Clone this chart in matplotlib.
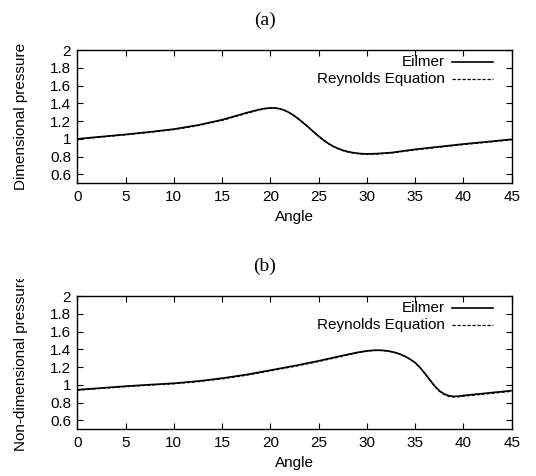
import numpy as np
import matplotlib
matplotlib.use('Agg')
import matplotlib.pyplot as plt
from matplotlib.lines import Line2D
from matplotlib.transforms import Bbox, TransformedBbox

plt.rcParams['font.family'] = ['Liberation Sans', 'DejaVu Sans']

# pressure along the wall, panel (a): dimensional
angle_a = [0, 2.5, 5, 7.5, 10, 12.5, 15, 17.5, 18, 18.5, 19, 19.5, 20, 20.5,
           21, 21.5, 22, 22.5, 23, 23.5, 24, 24.5, 25, 25.5, 26, 26.5, 27,
           27.5, 28, 28.5, 29, 29.5, 30, 31, 32.5, 35, 37.5, 40, 42.5, 45]
eilmer_a = [1.00, 1.025, 1.05, 1.078, 1.11, 1.155, 1.215, 1.293, 1.307, 1.321,
            1.333, 1.343, 1.348, 1.347, 1.338, 1.32, 1.293, 1.258, 1.217,
            1.172, 1.125, 1.077, 1.03, 0.987, 0.949, 0.917, 0.892, 0.872,
            0.857, 0.846, 0.838, 0.833, 0.831, 0.834, 0.845, 0.882, 0.912,
            0.942, 0.968, 0.995]
reynolds_a = [0.996, 1.02, 1.045, 1.073, 1.104, 1.149, 1.208, 1.286, 1.301,
              1.316, 1.329, 1.34, 1.346, 1.346, 1.337, 1.319, 1.292, 1.257,
              1.216, 1.171, 1.124, 1.076, 1.029, 0.986, 0.947, 0.915, 0.889,
              0.869, 0.853, 0.842, 0.834, 0.829, 0.827, 0.829, 0.84, 0.876,
              0.906, 0.936, 0.962, 0.99]

# panel (b): non-dimensional
angle_b = [0, 2.5, 5, 7.5, 10, 12.5, 15, 17.5, 20, 22.5, 25, 27.5, 29, 30,
           30.5, 31, 31.5, 32, 32.5, 33, 33.5, 34, 34.5, 35, 35.5, 36, 36.5,
           37, 37.5, 38, 38.5, 39, 39.5, 40, 42.5, 45]
eilmer_b = [0.945, 0.965, 0.985, 1.002, 1.018, 1.042, 1.075, 1.115, 1.165,
            1.215, 1.27, 1.33, 1.365, 1.382, 1.388, 1.39, 1.389, 1.384, 1.375,
            1.362, 1.343, 1.318, 1.287, 1.25, 1.195, 1.13, 1.06, 0.99, 0.935,
            0.898, 0.877, 0.87, 0.873, 0.88, 0.908, 0.935]
reynolds_b = [0.94, 0.96, 0.98, 0.997, 1.012, 1.036, 1.068, 1.108, 1.158,
              1.208, 1.263, 1.323, 1.36, 1.378, 1.385, 1.387, 1.387, 1.382,
              1.373, 1.36, 1.342, 1.317, 1.286, 1.249, 1.194, 1.128, 1.057,
              0.986, 0.929, 0.891, 0.87, 0.863, 0.866, 0.873, 0.9, 0.928]

panels = [
    ('(a)', 'Dimensional pressure', angle_a, eilmer_a, reynolds_a),
    ('(b)', 'Non-dimensional pressure', angle_b, eilmer_b, reynolds_b),
]

fig = plt.figure(figsize=(5.36, 4.76), dpi=100)
W, H = 536, 476
ax_left, ax_right = 77.3, 511.7
boxes = [(50, 183.3), (296, 429.3)]
title_y = [20, 266]
dash = (0, (2.6, 1.4))
fs = 11

for (tag, ylab, ang, eil, rey), (top, bot), ty in zip(panels, boxes, title_y):
    ax = fig.add_axes([ax_left / W, 1 - bot / H, (ax_right - ax_left) / W, (bot - top) / H])
    ax.plot(ang, eil, color='black', lw=1.2, solid_capstyle='butt')
    ax.plot(ang, rey, color='black', lw=0.9, linestyle=dash)
    ax.set_xlim(0, 45)
    ax.set_ylim(0.5, 2.0)
    ax.set_xticks(np.arange(0, 46, 5))
    ax.set_yticks(np.arange(0.6, 2.01, 0.2))
    ax.set_yticklabels(['0.6', '0.8', '1', '1.2', '1.4', '1.6', '1.8', '2'])
    ax.tick_params(direction='in', top=True, right=True, length=4, width=0.8,
                   labelsize=fs, pad=4.5)
    for s in ax.spines.values():
        s.set_linewidth(1.0)
    ax.set_xlabel('Angle', fontsize=fs, labelpad=5)
    ax.set_ylabel(ylab, fontsize=fs, labelpad=16)

    # gnuplot-style key: right-aligned text, sample line to its right
    for row, (name, ls, lw) in enumerate([('Eilmer', '-', 1.2),
                                           ('Reynolds Equation', dash, 0.9)]):
        yk = 0.91 - row * 0.128
        ax.text(0.8465, yk, name, transform=ax.transAxes, ha='right',
                va='center', fontsize=fs)
        ax.add_line(Line2D([0.8626, 0.957], [yk, yk], transform=ax.transAxes,
                           color='black', lw=lw, linestyle=ls))

    fig.text(265 / W, 1 - ty / H, tag, ha='center', va='center',
             family='Liberation Serif', fontsize=14)

    if tag == '(b)':
        # label is cut off at the top of the panel region
        lbl = ax.yaxis.label
        lbl.set_clip_on(True)
        lbl.set_clip_box(TransformedBbox(Bbox([[0, 0], [1, 1 - 279 / H]]), fig.transFigure))

fig.savefig('out.png', dpi=100)
